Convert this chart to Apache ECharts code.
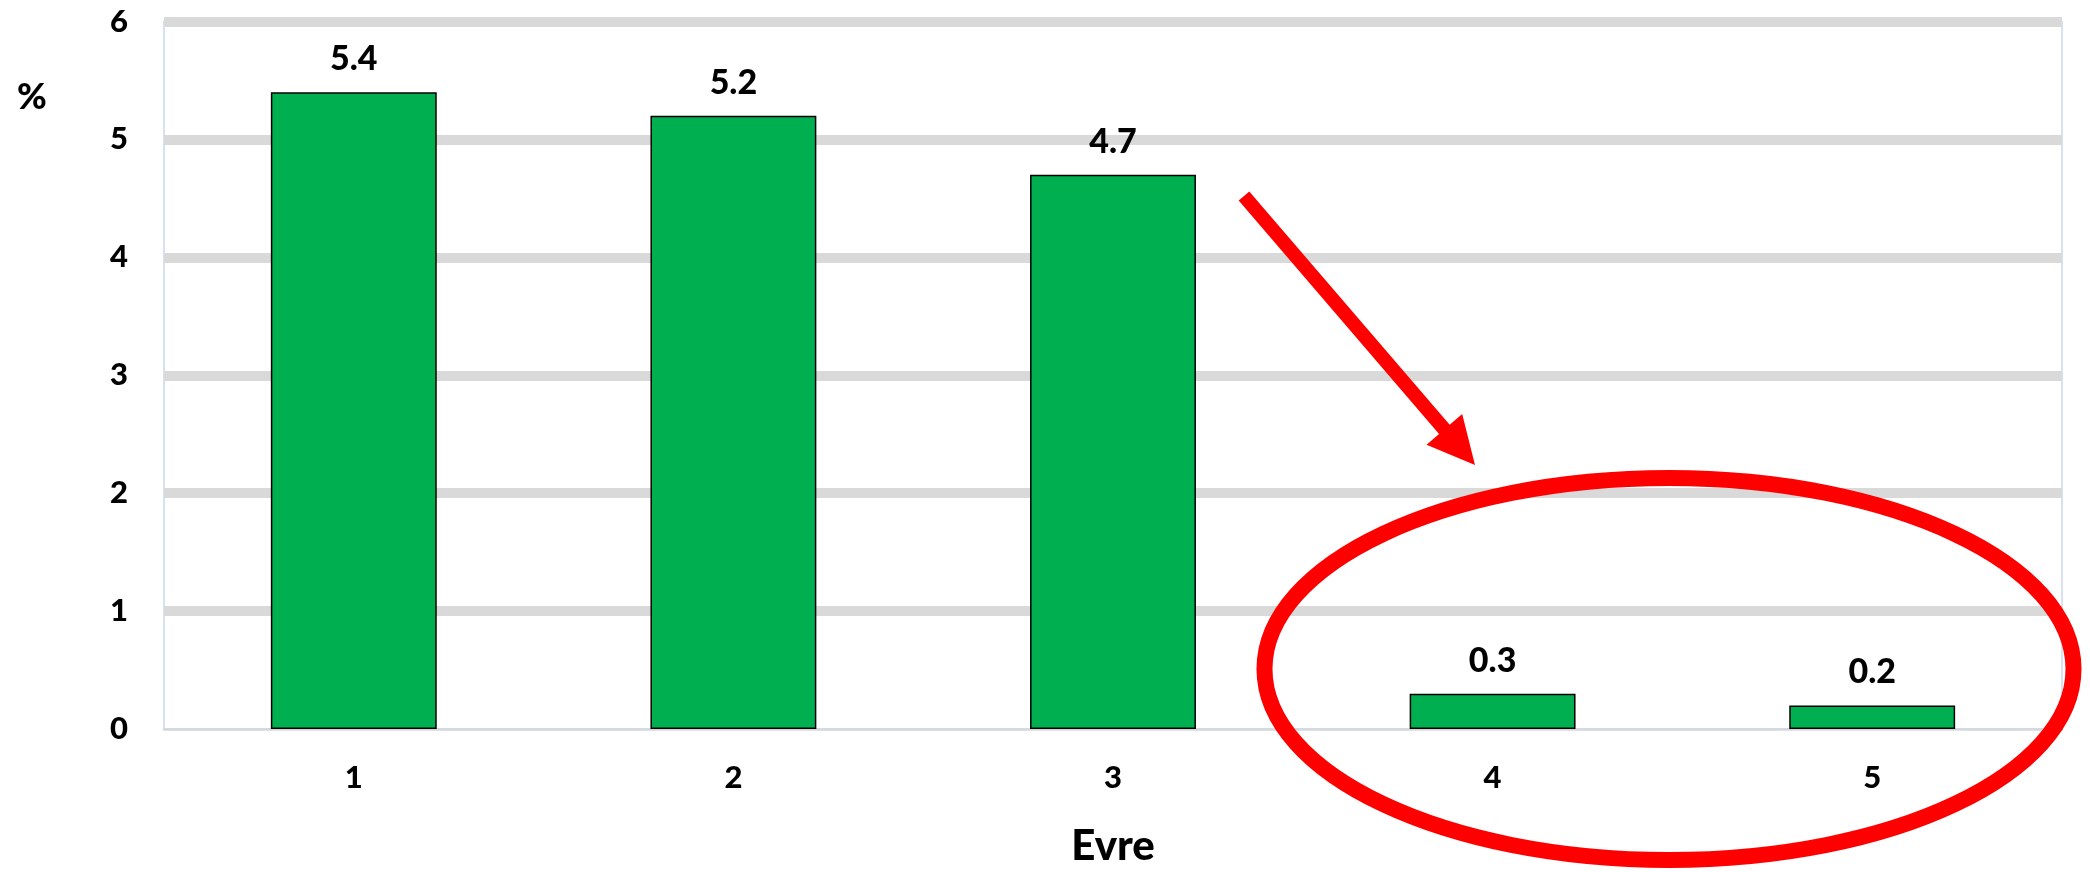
<!DOCTYPE html>
<html>
<head>
<meta charset="utf-8">
<title>Evre</title>
<script src="https://cdn.jsdelivr.net/npm/echarts@6/dist/echarts.min.js"></script>
<style>
  html, body { margin: 0; padding: 0; background: #ffffff; }
  #chart { width: 2090px; height: 872px; }
</style>
</head>
<body>
<div id="chart"></div>
<script>
// Stages on the x axis and their percentages
const stages = ['1', '2', '3', '4', '5'];
const percentages = [5.4, 5.2, 4.7, 0.3, 0.2];
const yTicks = [0, 1, 2, 3, 4, 5, 6];

const FONT = 'Lato, "Open Sans", "Noto Sans", sans-serif';
const GRID_COLOR = '#d9d9d9';

const chart = echarts.init(document.getElementById('chart'), null, { renderer: 'canvas' });

// first split line (at 0) stays invisible so only the thin axis line shows there
const splitColors = yTicks.map((t, i) => (i === 0 ? 'rgba(0,0,0,0)' : GRID_COLOR));

chart.setOption({
  backgroundColor: '#ffffff',
  animation: false,
  title: {
    text: '%',
    left: 12,
    top: 74,
    textStyle: { fontFamily: FONT, fontSize: 36, fontWeight: 900, color: '#000' }
  },
  grid: {
    left: 164,
    right: 28,
    top: 21.5,
    bottom: 139,
    show: true,
    borderColor: '#c9d9ee',
    borderWidth: 1.5,
    containLabel: false
  },
  xAxis: {
    type: 'category',
    data: stages,
    name: 'Evre',
    nameLocation: 'middle',
    nameGap: 96,
    nameTextStyle: { fontFamily: FONT, fontSize: 42, fontWeight: 900, color: '#000', verticalAlign: 'top' },
    axisLine: { show: true, lineStyle: { color: '#d4d8dd', width: 2.5 } },
    axisTick: { show: false },
    axisLabel: {
      margin: 33,
      fontFamily: FONT, fontSize: 31, fontWeight: 900, color: '#000'
    },
    splitLine: { show: false }
  },
  yAxis: {
    type: 'value',
    min: 0,
    max: 6,
    interval: 1,
    axisLine: { show: false },
    axisTick: { show: false },
    axisLabel: {
      margin: 36,
      fontFamily: FONT, fontSize: 31, fontWeight: 900, color: '#000'
    },
    splitLine: { show: true, lineStyle: { color: splitColors, width: 10 } }
  },
  series: [{
    type: 'bar',
    data: percentages,
    barWidth: '43.7%',
    itemStyle: { color: '#00b050', borderColor: '#000000', borderWidth: 1.5 },
    label: {
      show: true,
      position: 'top',
      distance: 16,
      fontFamily: FONT, fontSize: 34, fontWeight: 900, color: '#000',
      formatter: p => p.value.toFixed(1)
    }
  }]
});

// Callout: an arrow pointing into an ellipse that circles the last two stages
const tail = [1244, 196];
const tip = [1475, 465];
const shaftHalf = 7;
const headLen = 47;
const headHalf = 23.5;

const dx = tip[0] - tail[0], dy = tip[1] - tail[1];
const len = Math.hypot(dx, dy);
const ux = dx / len, uy = dy / len;
const nx = -uy, ny = ux;
const base = [tip[0] - ux * headLen, tip[1] - uy * headLen];
const arrowPts = [
  [tail[0] + nx * shaftHalf, tail[1] + ny * shaftHalf],
  [base[0] + nx * shaftHalf, base[1] + ny * shaftHalf],
  [base[0] + nx * headHalf, base[1] + ny * headHalf],
  tip,
  [base[0] - nx * headHalf, base[1] - ny * headHalf],
  [base[0] - nx * shaftHalf, base[1] - ny * shaftHalf],
  [tail[0] - nx * shaftHalf, tail[1] - ny * shaftHalf]
];

chart.setOption({
  graphic: [
    {
      type: 'ellipse',
      shape: { cx: 1669, cy: 669, rx: 404.5, ry: 191 },
      style: { fill: 'none', stroke: '#ff0000', lineWidth: 16 },
      z: 100
    },
    {
      type: 'polygon',
      shape: { points: arrowPts },
      style: { fill: '#ff0000', stroke: 'none' },
      z: 100
    }
  ]
});
</script>
</body>
</html>
